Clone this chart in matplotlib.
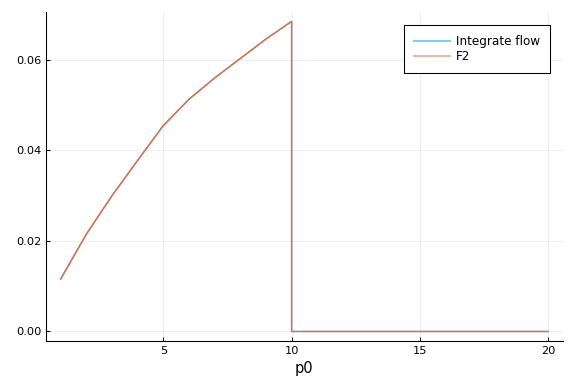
import numpy as np
import matplotlib
matplotlib.use("Agg")
import matplotlib.pyplot as plt

# values
p0_rise = [1, 2, 3, 4, 5, 6, 7, 8, 9, 10]
flow_rise = [0.0116, 0.0215, 0.0300, 0.0378, 0.0455, 0.0513, 0.0560, 0.0603, 0.0646, 0.0685]
p0_flat = [10, 11, 12, 13, 14, 15, 16, 17, 18, 19, 20]
flow_flat = [0.0] * len(p0_flat)

p0 = np.array(p0_rise + p0_flat, dtype=float)
integrate_flow = np.array(flow_rise + flow_flat)
f2 = integrate_flow.copy()

fig = plt.figure(figsize=(6, 4), dpi=96)
ax = fig.add_axes([0.08, 0.112, 0.897, 0.857])

ax.plot(p0, integrate_flow, color="#009AFA", lw=0.9, label="Integrate flow")
ax.plot(p0, f2, color="#E26F46", lw=1.1, label="F2")

ax.set_xlim(0.43, 20.57)
ax.set_ylim(-0.0021, 0.0706)
ax.set_xticks([5, 10, 15, 20])
ax.set_yticks([0.0, 0.02, 0.04, 0.06])
ax.set_yticklabels(["0.00", "0.02", "0.04", "0.06"])
ax.grid(True, color="#000000", alpha=0.06, lw=0.8)
ax.set_axisbelow(True)

for s in ["top", "right"]:
    ax.spines[s].set_visible(False)
ax.tick_params(labelsize=8.5, length=3, width=0.8, direction="in")
ax.set_xlabel("p0", fontsize=11)

leg = ax.legend(loc="upper right", fontsize=9, fancybox=False, framealpha=1,
                edgecolor="black", borderaxespad=1.1, handlelength=3.0,
                borderpad=0.8, labelspacing=0.2, handletextpad=0.5)
leg.get_frame().set_linewidth(0.8)
leg.get_lines()[0].set_color("#7FCCFC")
leg.get_lines()[1].set_color("#F0B6A2")
for h in leg.get_lines():
    h.set_linewidth(1.5)

fig.savefig("out.png", dpi=96)
